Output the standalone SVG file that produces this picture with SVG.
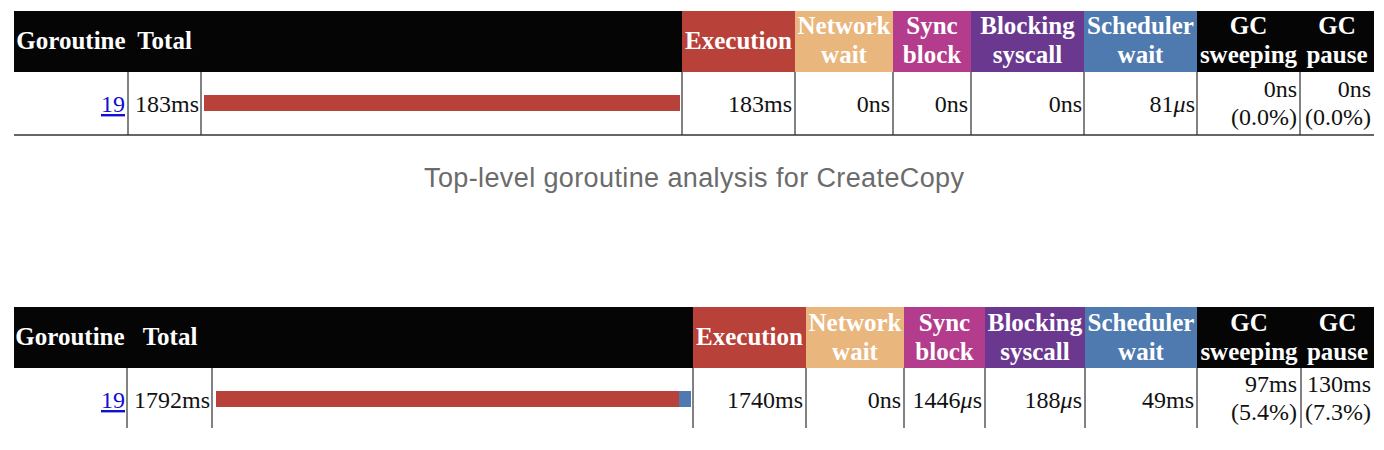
<svg xmlns="http://www.w3.org/2000/svg" width="1384" height="450" viewBox="0 0 1384 450">
<style>
.bg{fill:#ffffff}
.blk{fill:#050505}
.ex{fill:#b8413a}
.nw{fill:#e9b67d}
.sb{fill:#b43c8c}
.bs{fill:#6b3890}
.sw{fill:#4e7ab0}
.h{font-family:"Liberation Serif","Times New Roman",serif;font-weight:bold;font-size:25px;fill:#ffffff;text-anchor:middle}
.v{font-family:"Liberation Serif","Times New Roman",serif;font-size:24px;fill:#111111;text-anchor:end}
.lk{fill:#1010d0;text-decoration:underline}
.mu{font-style:italic}
.ln{stroke:#5a5a5a;stroke-width:1.5;fill:none}
.bd{stroke:#333333;stroke-width:1.5;fill:none}
.cap{font-family:"Liberation Sans",Arial,sans-serif;font-size:27px;fill:#6b6b6b;text-anchor:middle}
</style>
<rect class="bg" x="0" y="0" width="1384" height="450"/>

<g id="table-top">
  <rect class="blk" x="14" y="11" width="1360" height="61"/>
  <rect class="ex" x="682" y="11" width="113" height="61"/>
  <rect class="nw" x="795" y="11" width="98" height="61"/>
  <rect class="sb" x="893" y="11" width="78" height="61"/>
  <rect class="bs" x="971" y="11" width="113" height="61"/>
  <rect class="sw" x="1084" y="11" width="113" height="61"/>
  <text class="h" x="71" y="49">Goroutine</text>
  <text class="h" x="164.5" y="49">Total</text>
  <text class="h" x="738.5" y="49">Execution</text>
  <text class="h" x="844" y="34">Network</text>
  <text class="h" x="844" y="63">wait</text>
  <text class="h" x="932" y="34">Sync</text>
  <text class="h" x="932" y="63">block</text>
  <text class="h" x="1027.5" y="34">Blocking</text>
  <text class="h" x="1027.5" y="63">syscall</text>
  <text class="h" x="1140.5" y="34">Scheduler</text>
  <text class="h" x="1140.5" y="63">wait</text>
  <text class="h" x="1248.5" y="34">GC</text>
  <text class="h" x="1248.5" y="63">sweeping</text>
  <text class="h" x="1337" y="34">GC</text>
  <text class="h" x="1337" y="63">pause</text>
  <g id="rule-top">
    <path class="ln" d="M128 72V135M201 72V135M682 72V135M795 72V135M893 72V135M971 72V135M1084 72V135M1197 72V135M1300 72V135"/>
    <path class="bd" d="M14 135H1374"/>
  </g>
  <rect class="ex" x="204" y="95" width="476" height="16"/>
  <text class="v lk" x="125" y="112">19</text>
  <text class="v" x="199" y="112">183ms</text>
  <text class="v" x="792" y="112">183ms</text>
  <text class="v" x="890" y="112">0ns</text>
  <text class="v" x="968" y="112">0ns</text>
  <text class="v" x="1082" y="112">0ns</text>
  <text class="v" x="1195" y="112">81<tspan class="mu">μ</tspan>s</text>
  <text class="v" x="1297" y="97">0ns</text>
  <text class="v" x="1297" y="125">(0.0%)</text>
  <text class="v" x="1371" y="97">0ns</text>
  <text class="v" x="1371" y="125">(0.0%)</text>
</g>

<g id="caption">
  <text class="cap" x="694" y="187" textLength="540" lengthAdjust="spacing">Top-level goroutine analysis for CreateCopy</text>
</g>

<g id="table-bottom">
  <rect class="blk" x="14" y="307" width="1360" height="61"/>
  <rect class="ex" x="693" y="307" width="113" height="61"/>
  <rect class="nw" x="806" y="307" width="98" height="61"/>
  <rect class="sb" x="904" y="307" width="81" height="61"/>
  <rect class="bs" x="985" y="307" width="100" height="61"/>
  <rect class="sw" x="1085" y="307" width="112" height="61"/>
  <text class="h" x="70" y="345">Goroutine</text>
  <text class="h" x="170" y="345">Total</text>
  <text class="h" x="749.5" y="345">Execution</text>
  <text class="h" x="855" y="331">Network</text>
  <text class="h" x="855" y="360">wait</text>
  <text class="h" x="944.5" y="331">Sync</text>
  <text class="h" x="944.5" y="360">block</text>
  <text class="h" x="1035" y="331">Blocking</text>
  <text class="h" x="1035" y="360">syscall</text>
  <text class="h" x="1141" y="331">Scheduler</text>
  <text class="h" x="1141" y="360">wait</text>
  <text class="h" x="1249" y="331">GC</text>
  <text class="h" x="1249" y="360">sweeping</text>
  <text class="h" x="1337.5" y="331">GC</text>
  <text class="h" x="1337.5" y="360">pause</text>
  <g id="rule-bottom">
    <path class="ln" d="M127 368V428M212 368V428M693 368V428M806 368V428M904 368V428M985 368V428M1085 368V428M1197 368V428M1301 368V428"/>
  </g>
  <rect class="ex" x="216" y="391" width="463" height="16"/>
  <rect class="sw" x="679" y="391" width="12" height="16"/>
  <text class="v lk" x="125" y="408">19</text>
  <text class="v" x="210" y="408">1792ms</text>
  <text class="v" x="803" y="408">1740ms</text>
  <text class="v" x="901" y="408">0ns</text>
  <text class="v" x="982" y="408">1446<tspan class="mu">μ</tspan>s</text>
  <text class="v" x="1082" y="408">188<tspan class="mu">μ</tspan>s</text>
  <text class="v" x="1194" y="408">49ms</text>
  <text class="v" x="1297" y="392">97ms</text>
  <text class="v" x="1297" y="420">(5.4%)</text>
  <text class="v" x="1371" y="392">130ms</text>
  <text class="v" x="1371" y="420">(7.3%)</text>
</g>
</svg>
